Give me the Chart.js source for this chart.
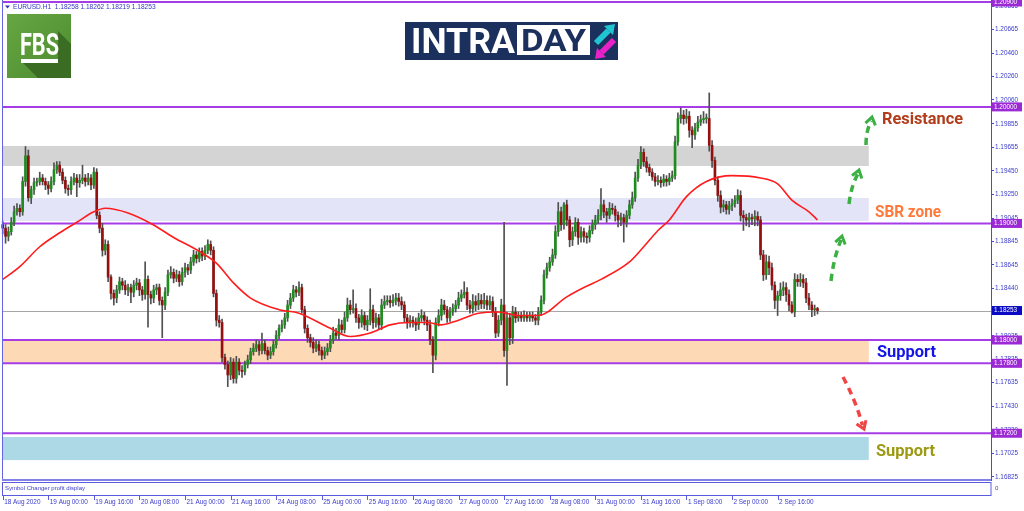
<!DOCTYPE html>
<html lang="en">
<head>
<meta charset="UTF-8">
<title>EURUSD H1</title>
<script src="https://cdn.jsdelivr.net/npm/chart.js@4.4.0/dist/chart.umd.min.js"></script>
<style>
  html, body { margin: 0; padding: 0; background: #fff; }
  #wrap { width: 1024px; height: 511px; }
</style>
</head>
<body>
<div id="wrap"><canvas id="chart" width="1024" height="511"></canvas></div>
<script>
// ---- data (H1 bars, 18 Aug 08:00 .. 3 Sep) ----
const firstOpen = 1.1899;
const closes = [
  1.1896,1.1889,1.1893,1.1901,1.1910,1.1913,1.1910,1.1936,1.1958,1.1922,
  1.1929,1.1935,1.1936,1.1939,1.1936,1.1933,1.1930,1.1936,1.1946,1.1950,
  1.1944,1.1937,1.1930,1.1929,1.1936,1.1939,1.1935,1.1937,1.1939,1.1936,
  1.1939,1.1933,1.1944,1.1907,1.1896,1.1877,1.1882,1.1854,1.1840,1.1836,
  1.1843,1.1850,1.1847,1.1843,1.1845,1.1841,1.1847,1.1849,1.1843,1.1839,
  1.1852,1.1839,1.1836,1.1843,1.1845,1.1834,1.1830,1.1841,1.1856,1.1858,
  1.1853,1.1856,1.1850,1.1858,1.1862,1.1860,1.1867,1.1873,1.1870,1.1876,
  1.1872,1.1877,1.1882,1.1877,1.1840,1.1817,1.1815,1.1785,1.1779,1.1770,
  1.1781,1.1767,1.1781,1.1774,1.1773,1.1779,1.1783,1.1790,1.1793,1.1796,
  1.1791,1.1797,1.1791,1.1787,1.1790,1.1796,1.1804,1.1810,1.1813,1.1819,
  1.1830,1.1836,1.1843,1.1841,1.1845,1.1826,1.1810,1.1802,1.1798,1.1793,
  1.1796,1.1791,1.1787,1.1790,1.1793,1.1800,1.1806,1.1804,1.1813,1.1809,
  1.1819,1.1830,1.1826,1.1827,1.1819,1.1815,1.1821,1.1813,1.1817,1.1826,
  1.1815,1.1819,1.1813,1.1830,1.1833,1.1834,1.1832,1.1834,1.1836,1.1833,
  1.1830,1.1819,1.1815,1.1817,1.1815,1.1813,1.1819,1.1821,1.1817,1.1813,
  1.1800,1.1787,1.1815,1.1821,1.1830,1.1826,1.1819,1.1824,1.1827,1.1830,
  1.1836,1.1839,1.1841,1.1830,1.1827,1.1833,1.1830,1.1834,1.1831,1.1834,
  1.1830,1.1833,1.1824,1.1806,1.1817,1.1830,1.1791,1.1819,1.1802,1.1824,
  1.1819,1.1821,1.1819,1.1821,1.1819,1.1821,1.1819,1.1817,1.1824,1.1834,
  1.1856,1.1862,1.1867,1.1873,1.1893,1.1910,1.1899,1.1916,1.1903,1.1886,
  1.1893,1.1901,1.1888,1.1893,1.1889,1.1888,1.1894,1.1899,1.1903,1.1907,
  1.1916,1.1910,1.1907,1.1913,1.1912,1.1907,1.1903,1.1905,1.1901,1.1907,
  1.1916,1.1922,1.1939,1.1950,1.1961,1.1953,1.1948,1.1944,1.1940,1.1936,
  1.1937,1.1935,1.1938,1.1936,1.1939,1.1941,1.1970,1.1990,1.1993,1.1990,
  1.1992,1.1980,1.1976,1.1982,1.1987,1.1989,1.1990,1.1990,1.1967,1.1954,
  1.1937,1.1924,1.1914,1.1916,1.1912,1.1915,1.1917,1.1920,1.1924,1.1907,
  1.1905,1.1903,1.1905,1.1904,1.1906,1.1903,1.1873,1.1856,1.1867,1.1862,
  1.1847,1.1834,1.1838,1.1843,1.1845,1.1839,1.1830,1.1824,1.1852,1.1850,
  1.1852,1.1849,1.1836,1.1830,1.1826,1.1827,1.18253
];
// wick lengths beyond the body, in pips
const upWick = [
  3,3,4,4,5,4,3,4,8,5, 3,4,3,5,3,3,3,4,6,3, 3,3,3,3,4,4,3,5,11,3, 4,3,4,3,3,4,4,3,2,3,
  4,4,3,4,3,3,4,4,3,3, 15,3,3,4,3,3,3,4,4,5, 3,4,3,4,4,3,4,4,3,3, 3,4,4,3,3,3,4,3,3,3,
  4,3,5,3,4,3,4,3,4,4, 3,9,3,3,4,4,4,3,4,4, 4,4,4,3,5,3,3,3,3,4, 4,3,3,4,4,4,5,4,5,4,
  5,6,4,16,4,3,5,3,4,18, 4,4,3,5,5,4,4,5,4,4, 4,3,3,4,3,4,4,5,3,3, 4,3,4,5,5,4,3,4,4,4,
  5,4,9,4,4,6,5,6,5,6, 4,5,4,4,4,5,71,5,4,5, 4,3,3,4,3,3,3,3,4,4, 4,4,4,5,5,8,4,2,4,3,
  4,4,3,4,3,3,4,4,4,5, 14,4,3,5,4,3,3,4,3,4, 4,5,5,5,5,3,4,3,3,3, 4,3,4,3,4,4,5,5,6,4,
  6,4,3,4,5,4,6,4,22,4, 3,3,4,4,3,4,4,4,5,4, 4,3,4,3,5,4,3,4,6,5, 4,3,4,6,5,4,4,3,5,4,
  5,4,4,4,3,3,1
];
const downWick = [
  5,6,4,3,3,3,4,3,4,3, 5,4,3,3,3,4,5,3,3,3, 3,3,4,5,4,3,12,4,3,4, 3,4,3,3,4,5,4,4,5,6,
  4,3,4,4,5,9,4,4,5,5, 4,28,5,4,4,4,28,4,3,3, 4,3,4,3,4,4,3,3,4,3, 4,3,3,4,3,5,4,4,4,10,
  4,4,4,4,5,3,3,3,3,3, 4,3,3,4,3,3,3,3,3,3, 3,3,3,4,3,3,4,4,4,4, 3,4,4,3,3,3,3,3,4,3,
  3,3,4,3,4,5,4,4,5,4, 5,4,4,4,3,3,4,3,4,4, 4,4,5,4,4,5,4,3,4,5, 4,15,4,3,4,4,4,3,3,3,
  3,3,3,4,4,4,5,4,4,4, 4,4,4,4,3,4,5,30,6,5, 4,3,3,3,3,3,3,4,4,3, 3,3,3,3,3,4,5,4,5,6,
  5,4,6,4,5,5,4,3,4,3, 4,5,6,3,4,5,6,5,17,4, 3,3,3,3,3,4,4,3,3,4, 3,4,3,4,3,3,3,3,4,5,
  4,6,11,4,3,3,3,4,5,6, 4,5,5,4,4,4,4,3,3,5, 11,5,6,5,6,5,4,5,4,6, 4,7,13,4,5,6,5,1,4,4,
  4,4,4,4,6,5,3
];
// red moving average, [bar, price]
const maPoints = [
  [0,1.1852],[6,1.1863],[13,1.1880],[20,1.1892],[26,1.1901],[32,1.1910],[36,1.1913],
  [44,1.1909],[52,1.1900],[60,1.1888],[69,1.1876],[75,1.1866],[81,1.1849],[87,1.1836],
  [97,1.1826],[104,1.1823],[115,1.1810],[122,1.1803],[129,1.1806],[136,1.1813],
  [143,1.1815],[149,1.1815],[154,1.1813],[160,1.1817],[167,1.1823],[174,1.1824],
  [181,1.1821],[188,1.1821],[198,1.1837],[204,1.1845],[210,1.1852],[220,1.1867],
  [225,1.1880],[230,1.1894],[234,1.1903],[240,1.1923],[247,1.1936],[256,1.1941],
  [266,1.1939],[272,1.1934],[277,1.1920],[283,1.1910],[286,1.1903]
];
const tickBars = [0,16,32,48,64,80,96,112,128,144,160,176,192,208,224,240,256,272];
const timeLabels = ['18 Aug 2020','19 Aug 00:00','19 Aug 16:00','20 Aug 08:00','21 Aug 00:00',
  '21 Aug 16:00','24 Aug 08:00','25 Aug 00:00','25 Aug 16:00','26 Aug 08:00','27 Aug 00:00',
  '27 Aug 16:00','28 Aug 08:00','31 Aug 00:00','31 Aug 16:00','1 Sep 08:00','2 Sep 00:00','2 Sep 16:00'];
const priceTicks = [1.20865,1.20665,1.20460,1.20260,1.20060,1.19855,1.19655,1.19450,1.19250,
  1.19045,1.18845,1.18645,1.18440,1.18235,1.18035,1.17835,1.17635,1.17430,1.17230,1.17025,1.16825];
const levels = [1.20900, 1.20000, 1.19000, 1.18000, 1.17800, 1.17200];
const bidPrice = 1.18253;
const zoneTops = [1.19665, 1.19218, 1.18000, 1.17168];
const zoneBottoms = [1.19493, 1.19021, 1.17800, 1.16970];

// ---- build candle tables ----
const opens = closes.map((c, i) => i === 0 ? firstOpen : closes[i - 1]);
const wickData = closes.map((c, i) => ({
  x: i,
  y: [Math.min(opens[i], c) - downWick[i] / 10000, Math.max(opens[i], c) + upWick[i] / 10000]
}));
const bodyData = closes.map((c, i) => ({ x: i, y: [opens[i], c] }));
const bodyColors = closes.map((c, i) => c >= opens[i] ? '#1f8c1f' : '#940f0f');

function fitText(ctx, text, x, baseline, width, font, color) {
  ctx.save();
  ctx.font = font;
  ctx.fillStyle = color;
  ctx.textBaseline = 'alphabetic';
  ctx.textAlign = 'left';
  const w = ctx.measureText(text).width;
  ctx.translate(x, baseline);
  ctx.scale(width / w, 1);
  ctx.fillText(text, 0, 0);
  ctx.restore();
}

function dashedArrow(ctx, x0, y0, x1, y1, color) {
  const ang = Math.atan2(y1 - y0, x1 - x0);
  ctx.save();
  ctx.strokeStyle = color;
  ctx.lineWidth = 3.5;
  ctx.setLineDash([7, 5]);
  ctx.beginPath();
  ctx.moveTo(x0, y0);
  const mx = (x0 + x1) / 2 + Math.sin(ang) * 3, my = (y0 + y1) / 2 - Math.cos(ang) * 3;
  ctx.quadraticCurveTo(mx, my, x1 - Math.cos(ang) * 4, y1 - Math.sin(ang) * 4);
  ctx.stroke();
  ctx.setLineDash([]);
  ctx.lineWidth = 3;
  ctx.beginPath();
  ctx.moveTo(x1 - 9 * Math.cos(ang - 0.6), y1 - 9 * Math.sin(ang - 0.6));
  ctx.lineTo(x1, y1);
  ctx.lineTo(x1 - 9 * Math.cos(ang + 0.6), y1 - 9 * Math.sin(ang + 0.6));
  ctx.stroke();
  ctx.restore();
}

const overlay = {
  id: 'overlay',
  beforeDatasetsDraw(chart) {
    const { ctx, chartArea: a, scales: { x, y } } = chart;
    ctx.save();
    // shaded zones
    const fills = ['#d4d4d4', '#e4e4f8', '#fdd9b6', '#add8e6'];
    const xr = x.getPixelForValue(304);
    zoneTops.forEach((t, k) => {
      const y1 = y.getPixelForValue(t), y2 = y.getPixelForValue(zoneBottoms[k]);
      ctx.fillStyle = fills[k];
      ctx.fillRect(3, y1, xr - 3, y2 - y1);
    });
    // bid line
    const by = Math.round(y.getPixelForValue(bidPrice)) + 0.5;
    ctx.strokeStyle = '#a6a6a6';
    ctx.lineWidth = 1;
    ctx.beginPath(); ctx.moveTo(3, by); ctx.lineTo(a.right, by); ctx.stroke();
    // level lines
    ctx.strokeStyle = '#a63ce6';
    ctx.lineWidth = 2;
    levels.forEach(v => {
      const ly = y.getPixelForValue(v);
      ctx.beginPath(); ctx.moveTo(3, ly); ctx.lineTo(a.right, ly); ctx.stroke();
    });
    ctx.restore();
  },
  afterDraw(chart) {
    const { ctx, chartArea: a, scales: { x, y } } = chart;
    ctx.save();

    // frame
    ctx.strokeStyle = '#6464e6';
    ctx.lineWidth = 1;
    ctx.beginPath(); ctx.moveTo(2.5, 0); ctx.lineTo(2.5, 480); ctx.stroke();
    ctx.strokeStyle = '#8282e6';
    ctx.lineWidth = 2;
    ctx.beginPath(); ctx.moveTo(2, 480); ctx.lineTo(a.right, 480); ctx.stroke();

    // sub window
    ctx.strokeStyle = '#5b5be0';
    ctx.lineWidth = 1;
    ctx.strokeRect(2.5, 482.5, a.right - 2.5, 13);
    ctx.fillStyle = '#3a3acc';
    ctx.font = '6px "Liberation Sans"';
    ctx.textBaseline = 'middle';
    ctx.fillText('Symbol Changer profit display', 5, 488);
    ctx.fillText('0', 995, 488);

    // x tick marks
    ctx.strokeStyle = '#5b5be0';
    tickBars.forEach(v => {
      const tx = Math.round(x.getPixelForValue(v)) + 0.5;
      ctx.beginPath(); ctx.moveTo(tx, 496); ctx.lineTo(tx, 500); ctx.stroke();
    });

    // header text
    ctx.fillStyle = '#3434c8';
    ctx.beginPath(); ctx.moveTo(5, 5.5); ctx.lineTo(10, 5.5); ctx.lineTo(7.5, 8.5); ctx.closePath(); ctx.fill();
    ctx.font = '6.6px "Liberation Sans"';
    ctx.textBaseline = 'middle';
    ctx.fillText('EURUSD.H1  1.18258 1.18262 1.18219 1.18253', 13, 7);

    // price flags
    ctx.font = '6.4px "Liberation Sans"';
    levels.forEach(v => {
      const ly = y.getPixelForValue(v);
      ctx.fillStyle = '#9b2ad6';
      ctx.fillRect(992, ly - 4.5, 30, 9);
      ctx.fillStyle = '#ffffff';
      ctx.fillText(v.toFixed(5), 994, ly);
    });
    const bY = y.getPixelForValue(bidPrice);
    ctx.fillStyle = '#0a0ac4';
    ctx.fillRect(992, bY - 4.5, 30, 9);
    ctx.fillStyle = '#ffffff';
    ctx.fillText(bidPrice.toFixed(5), 994, bY);

    // FBS logo
    const g = ctx.createLinearGradient(7, 14, 71, 78);
    g.addColorStop(0, '#66a642');
    g.addColorStop(1, '#4c8c30');
    ctx.fillStyle = g;
    ctx.fillRect(7, 14, 64, 64);
    ctx.fillStyle = '#3b6c23';
    ctx.beginPath();
    ctx.moveTo(21, 61); ctx.lineTo(58, 61); ctx.lineTo(58, 31); ctx.lineTo(71, 44);
    ctx.lineTo(71, 78); ctx.lineTo(38, 78); ctx.closePath(); ctx.fill();
    fitText(ctx, 'FBS', 20, 55, 39, 'bold 32px Roboto', '#ffffff');
    ctx.fillStyle = '#ffffff';
    ctx.fillRect(21, 59, 37, 4);

    // INTRADAY logo
    ctx.fillStyle = '#1c305e';
    ctx.fillRect(405, 22, 213, 38);
    fitText(ctx, 'INTRA', 411, 53, 104, 'bold 35px Roboto', '#ffffff');
    ctx.fillStyle = '#ffffff';
    ctx.fillRect(517, 25, 73, 30);
    fitText(ctx, 'DAY', 521, 51, 65, 'bold 31px Roboto', '#1c305e');
    ctx.lineCap = 'butt';
    ctx.strokeStyle = '#1fc6d2'; ctx.fillStyle = '#1fc6d2'; ctx.lineWidth = 6;
    ctx.beginPath(); ctx.moveTo(596, 43); ctx.lineTo(608.5, 30.5); ctx.stroke();
    ctx.beginPath(); ctx.moveTo(615, 24); ctx.lineTo(613, 35); ctx.lineTo(604, 26); ctx.closePath(); ctx.fill();
    ctx.strokeStyle = '#e622c8'; ctx.fillStyle = '#e622c8';
    ctx.beginPath(); ctx.moveTo(614, 40); ctx.lineTo(601.5, 52.5); ctx.stroke();
    ctx.beginPath(); ctx.moveTo(595, 59); ctx.lineTo(597, 48); ctx.lineTo(606, 57); ctx.closePath(); ctx.fill();

    // annotations
    fitText(ctx, 'Resistance', 882, 124, 81, 'bold 16px Roboto', '#b23c1a');
    fitText(ctx, 'SBR zone', 875, 217, 66, 'bold 16px Roboto', '#ff7a3a');
    fitText(ctx, 'Support', 877, 357, 59, 'bold 16px Roboto', '#1414e8');
    fitText(ctx, 'Support', 876, 456, 59, 'bold 16px Roboto', '#9c9a12');

    dashedArrow(ctx, 831, 281, 842, 236, '#3cb043');
    dashedArrow(ctx, 849, 204, 859, 170, '#3cb043');
    dashedArrow(ctx, 866, 145, 872, 117, '#3cb043');
    dashedArrow(ctx, 843, 377, 864, 429, '#f04545');

    ctx.restore();
  }
};

new Chart(document.getElementById('chart'), {
  type: 'bar',
  data: {
    datasets: [
      {
        type: 'line',
        data: maPoints.map(p => ({ x: p[0], y: p[1] })),
        borderColor: '#ff1c1c',
        borderWidth: 1.6,
        pointRadius: 0,
        cubicInterpolationMode: 'monotone',
        order: 0
      },
      {
        data: bodyData,
        backgroundColor: bodyColors,
        barThickness: 2,
        minBarLength: 1,
        grouped: false,
        order: 1
      },
      {
        data: wickData,
        backgroundColor: '#505050',
        barThickness: 1,
        grouped: false,
        order: 2
      }
    ]
  },
  options: {
    responsive: false,
    animation: false,
    layout: { padding: 0 },
    plugins: { legend: { display: false }, tooltip: { enabled: false } },
    scales: {
      x: {
        type: 'linear',
        min: -0.95,
        max: 346.9,
        offset: false,
        grid: { display: false, drawOnChartArea: false, drawTicks: false },
        border: { display: false },
        afterBuildTicks: s => { s.ticks = tickBars.map(v => ({ value: v })); },
        afterFit: s => { s.height = 31; s.paddingLeft = 0; s.paddingRight = 0; },
        ticks: {
          autoSkip: false,
          maxRotation: 0,
          align: 'start',
          labelOffset: 1.5,
          padding: 18,
          color: '#3a3acc',
          font: { family: 'Liberation Sans', size: 6.4 },
          callback: (v, i) => timeLabels[i]
        }
      },
      y: {
        position: 'right',
        min: 1.16799,
        max: 1.20917,
        grid: { drawOnChartArea: false, drawTicks: true, tickLength: 3, color: '#4a4ad8' },
        border: { display: true, color: '#4a4ad8' },
        afterBuildTicks: s => { s.ticks = priceTicks.map(v => ({ value: v })); },
        afterFit: s => { s.width = 33; s.paddingTop = 0; s.paddingBottom = 0; },
        ticks: {
          padding: 1,
          color: '#3a3acc',
          font: { family: 'Liberation Sans', size: 6.4 },
          callback: v => v.toFixed(5)
        }
      }
    }
  },
  plugins: [overlay]
});
</script>
</body>
</html>
